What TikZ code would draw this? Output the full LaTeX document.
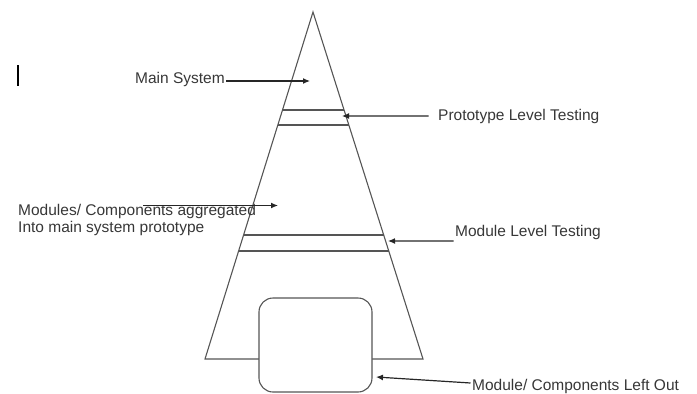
\documentclass[tikz,border=0pt]{standalone}
\usepackage{fontspec}
\setmainfont{Liberation Sans}
\usetikzlibrary{arrows.meta,calc}
\definecolor{linegray}{RGB}{85,85,85}
\definecolor{textgray}{RGB}{55,55,55}

\begin{document}
\begin{tikzpicture}[
			x=1pt,y=-1pt,
			outline/.style={
				draw=linegray,
				line width=1.1pt,
				line join=miter
			},
			label/.style={
				text=textgray,
				inner sep=1.5pt,
				anchor=base west,
				align=left,
				font=\fontsize{15.5}{17}\selectfont
			},
			leftbox/.style={
				draw=linegray,
				fill=white,
				line width=1.1pt,
				rounded corners=14pt,
				minimum width=113pt,
				minimum height=94pt
			},
			pointer/.style={
				-{Latex[length=7pt,width=6pt]},
				draw=black!85,
				line width=1.2pt
			}
		]
			
			\useasboundingbox (0,0) rectangle (697,394);
			
			\coordinate (apex) at (313,12);
			\coordinate (bl) at (205,359);
			\coordinate (br) at (423,359);
			
			\draw[outline] (apex) -- (bl) -- (br) -- cycle;
			
			\foreach \t in {0.2824,0.3256,0.6427,0.6888}
				\draw[outline] ($(apex)!\t!(bl)$) -- ($(apex)!\t!(br)$);
			
			\node[leftbox] (leftout) at (315.5,345) {};
			
			\draw[line width=2pt] (18,65) -- (18,86);
			
			\node[label] (main) at (133.5,83) {Main System};
			\node[label] (proto) at (436.5,120) {Prototype Level Testing};
			\node[label,anchor=north west] (mods) at (16.5,203) {Modules/ Components aggregated\\Into main system prototype};
			\node[label] (modlev) at (453.5,236) {Module Level Testing};
			\node[label] (lotext) at (470.5,390) {Module/ Components Left Out};
			
			\coordinate (mstip) at (310,81);
			\coordinate (ptip) at (342,116);
			\coordinate (aggtail) at (143,205.5);
			\coordinate (aggtip) at (278,205.5);
			\coordinate (mltip) at (388,241);
			\coordinate (lotip) at (376,377);
			
			\draw[pointer] ([yshift=2pt]main.base east) -- (mstip);
			\draw[pointer,shorten <=8pt] (proto.west) -- (ptip);
			\draw[pointer] (aggtail) -- (aggtip);
			\draw[pointer] (modlev.south west) -- (mltip);
			\draw[pointer] ([yshift=3pt]lotext.west) -- (lotip);
			
		\end{tikzpicture}
\end{document}
